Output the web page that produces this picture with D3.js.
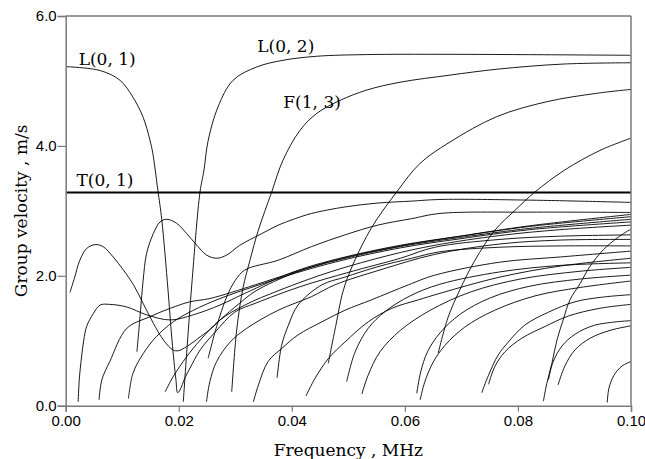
<!DOCTYPE html>
<html><head><meta charset="utf-8">
<script src="https://cdn.jsdelivr.net/npm/d3@7/dist/d3.min.js"></script>
<style>body{margin:0;background:#fff}svg{display:block}</style>
</head><body>
<svg id="chart" width="645" height="459"></svg>
<script>
// ---- data (frequency MHz, group velocity) ----
const xTicks = [0, 0.02, 0.04, 0.06, 0.08, 0.10];
const yTicks = [0, 2, 4, 6];
const xTitle = "Frequency , MHz";
const yTitle = "Group velocity , m/s";
const modeLabels = [
  {text:"L(0, 1)", f:0.0023, v:5.24},
  {text:"T(0, 1)", f:0.0019, v:3.38},
  {text:"L(0, 2)", f:0.0339, v:5.44},
  {text:"F(1, 3)", f:0.0385, v:4.58}
];
const T01 = [[0,3.283],[0.1,3.283]];
const L01 = [[0,5.22],[0.0061,5.16],[0.0096,5.01],[0.0119,4.75],[0.0137,4.44],[0.0149,4.09],[0.0154,3.89],[0.0163,3.32],[0.0170,2.86],[0.0181,1.78],[0.0188,1.01],[0.0195,0.40],[0.0198,0.2],[0.0202,0.24],[0.0211,0.43],[0.0220,0.58],[0.0238,0.86],[0.0264,1.13],[0.0299,1.44],[0.0335,1.575],[0.0414,1.83],[0.0503,2.06],[0.0592,2.27],[0.0653,2.44],[0.0768,2.56],[0.0875,2.61],[0.1,2.63]];
const L02 = [[0.0208,0.06],[0.0215,0.93],[0.0223,1.86],[0.02376,3.29],[0.02447,3.63],[0.02517,4.07],[0.02694,4.6],[0.0296,5.01],[0.03379,5.215],[0.03844,5.318],[0.0444,5.38],[0.05325,5.406],[0.068,5.41],[0.1,5.395]];
const F13 = [[0.02937,0.215],[0.03025,1.165],[0.03136,1.81],[0.0326,2.24],[0.03407,2.70],[0.03644,3.29],[0.03844,3.78],[0.04145,4.24],[0.0444,4.50],[0.04852,4.70],[0.05325,4.86],[0.05914,4.98],[0.068,5.09],[0.07624,5.18],[0.08797,5.26],[0.1,5.28]];
const M3 = [[0.04645,0.65],[0.0478,1.24],[0.0494,1.86],[0.05383,2.70],[0.05855,3.29],[0.06267,3.73],[0.06798,4.06],[0.07624,4.45],[0.08509,4.68],[0.09393,4.81],[0.1,4.87]];
const M4 = [[0.0659,0.81],[0.0676,1.35],[0.0697,1.78],[0.0724,2.24],[0.0759,2.70],[0.0795,3.01],[0.083,3.29],[0.0883,3.63],[0.0945,3.93],[0.1,4.12]];
const M5 = [[0.0845,0.07],[0.0851,0.34],[0.086,0.65],[0.0869,1.01],[0.088,1.32],[0.0892,1.63],[0.0910,1.88],[0.0927,2.14],[0.0951,2.40],[0.0975,2.58],[0.1,2.72]];
const FA = [[0.00076,1.745],[0.0016,1.98],[0.0025,2.24],[0.0037,2.42],[0.0052,2.48],[0.0066,2.45],[0.0084,2.29],[0.0102,2.09],[0.0120,1.86],[0.0137,1.575],[0.0155,1.27],[0.0173,1.01],[0.0190,0.857],[0.0199,0.846],[0.0214,0.91],[0.0238,1.06],[0.0261,1.215],[0.0273,1.32],[0.0308,1.58],[0.0335,1.76],[0.0406,2.05],[0.0485,2.26],[0.0592,2.46],[0.0698,2.61],[0.0821,2.77],[0.1,2.945]];
const FB = [[0.0126,0.83],[0.0131,1.32],[0.0137,1.93],[0.0143,2.34],[0.0155,2.65],[0.0167,2.83],[0.0179,2.87],[0.0196,2.81],[0.0214,2.65],[0.0232,2.47],[0.0249,2.32],[0.0267,2.27],[0.0285,2.32],[0.0308,2.47],[0.0347,2.65],[0.0376,2.78],[0.0406,2.88],[0.0435,2.96],[0.0494,3.06],[0.0552,3.12],[0.0612,3.15],[0.0662,3.175],[0.0821,3.165],[0.1,3.13]];
const M2 = [[0.0022,0.06],[0.0024,0.40],[0.0028,0.75],[0.0032,1.01],[0.0037,1.22],[0.0049,1.42],[0.0061,1.55],[0.0078,1.56],[0.0108,1.52],[0.0143,1.40],[0.0185,1.32],[0.0226,1.40],[0.0273,1.55],[0.0317,1.73],[0.0406,2.07],[0.0485,2.27],[0.0592,2.47],[0.0698,2.61],[0.0821,2.76],[0.1,2.91]];
const M6 = [[0.0059,0.09],[0.0064,0.40],[0.0078,0.68],[0.0108,1.19],[0.0149,1.37],[0.0185,1.50],[0.0220,1.60],[0.0255,1.65],[0.0335,1.86],[0.0406,2.06],[0.0485,2.25],[0.0592,2.45],[0.0698,2.59],[0.0821,2.73],[0.1,2.87]];
const M7 = [[0.0111,0.11],[0.0119,0.50],[0.0137,0.80],[0.016,1.06],[0.019,1.29],[0.0226,1.47],[0.0273,1.65],[0.0335,1.84],[0.0406,2.04],[0.0485,2.23],[0.0592,2.43],[0.0698,2.57],[0.0821,2.71],[0.1,2.83]];
const M8 = [[0.0176,0.215],[0.0190,0.446],[0.0214,0.754],[0.0238,1.01],[0.0273,1.32],[0.0317,1.55],[0.0379,1.78],[0.0468,2.06],[0.0574,2.32],[0.0653,2.47],[0.0768,2.62],[0.0874,2.71],[0.1,2.78]];
const M9 = [[0.0249,0.06],[0.0255,0.37],[0.0267,0.68],[0.0291,0.98],[0.032,1.19],[0.0376,1.47],[0.0435,1.68],[0.0476,1.86],[0.0556,2.09],[0.0653,2.33],[0.0768,2.49],[0.0875,2.55],[0.1,2.56]];
const M10 = [[0.0252,0.73],[0.0267,1.22],[0.0285,1.68],[0.030,1.93],[0.0317,2.09],[0.0376,2.24],[0.0435,2.45],[0.0494,2.63],[0.0552,2.78],[0.0612,2.88],[0.0662,2.96],[0.0821,2.98],[0.1,2.975]];
const M12 = [[0.0332,0.06],[0.0341,0.32],[0.0358,0.68],[0.0382,0.88],[0.0411,1.09],[0.0453,1.29],[0.0494,1.47],[0.0541,1.63],[0.0606,1.86],[0.0653,2.01],[0.0768,2.21],[0.0875,2.29],[0.1,2.38]];
const M13 = [[0.0374,0.43],[0.0382,0.93],[0.0394,1.24],[0.0411,1.55],[0.0453,1.86],[0.0494,1.98],[0.0552,2.14],[0.0612,2.27],[0.0662,2.37],[0.0768,2.44],[0.0875,2.46],[0.1,2.46]];
const M14 = [[0.0425,0.15],[0.0441,0.42],[0.0465,0.73],[0.0494,0.98],[0.0535,1.29],[0.0577,1.50],[0.0624,1.63],[0.0662,1.73],[0.0768,1.98],[0.0875,2.15],[0.1,2.27]];
const M16 = [[0.0497,0.37],[0.0512,0.83],[0.0535,1.19],[0.0565,1.45],[0.0609,1.69],[0.0662,1.87],[0.0768,2.06],[0.0875,2.16],[0.1,2.20]];
const M17 = [[0.0524,0.18],[0.0535,0.47],[0.0556,0.83],[0.0592,1.16],[0.0645,1.47],[0.0716,1.75],[0.0804,1.95],[0.091,2.07],[0.1,2.13]];
const M18 = [[0.0621,0.19],[0.0628,0.52],[0.064,0.83],[0.0662,1.12],[0.0698,1.41],[0.0751,1.66],[0.0821,1.84],[0.091,1.95],[0.1,2.01]];
const M19 = [[0.0627,0.09],[0.0635,0.36],[0.065,0.67],[0.0671,0.93],[0.0706,1.21],[0.0759,1.47],[0.083,1.69],[0.091,1.82],[0.1,1.92]];
const M21 = [[0.0736,0.2],[0.0748,0.47],[0.0765,0.78],[0.0783,0.98],[0.0812,1.24],[0.0854,1.44],[0.0901,1.6],[0.0948,1.67],[0.1,1.71]];
const M22 = [[0.0748,0.33],[0.0759,0.6],[0.0777,0.83],[0.0807,1.04],[0.0848,1.22],[0.0889,1.38],[0.0945,1.50],[0.1,1.56]];
const M24 = [[0.0854,0.40],[0.0862,0.67],[0.0878,0.92],[0.0901,1.10],[0.0936,1.24],[0.1,1.31]];
const M25 = [[0.0871,0.32],[0.0883,0.61],[0.0901,0.86],[0.0928,1.04],[0.0963,1.16],[0.1,1.23]];
const M26 = [[0.0958,0.05],[0.0961,0.27],[0.097,0.47],[0.0984,0.61],[0.1,0.68]];

const thinModes = [L01,L02,F13,M3,M4,M5,FA,FB,M2,M6,M7,M8,M9,M10,M12,M13,M14,M16,M17,M18,M19,M21,M22,M24,M25,M26];

// ---- layout ----
const svg = d3.select("#chart");
const X0 = 65.7, X1 = 631, Y0 = 405.7, Y1 = 16;
const x = d3.scaleLinear().domain([0,0.1]).range([X0,X1]);
const y = d3.scaleLinear().domain([0,6]).range([Y0,Y1]);
const axisColor = "#7a7a7a";

const line = d3.line().x(d=>x(d[0])).y(d=>y(d[1])).curve(d3.curveCatmullRom.alpha(0.5));

const g = svg.append("g");
g.append("defs").append("clipPath").attr("id","clip").append("rect")
  .attr("x",X0).attr("y",Y1).attr("width",X1-X0).attr("height",Y0-Y1);
const curves = g.append("g").attr("clip-path","url(#clip)");
curves.selectAll("path.m").data(thinModes).join("path").attr("class","m")
  .attr("d",line).attr("fill","none").attr("stroke","#000").attr("stroke-width",0.9);
curves.append("path").datum(T01).attr("d",line).attr("fill","none").attr("stroke","#000").attr("stroke-width",2);

// frame
g.append("line").attr("x1",X0).attr("x2",X1).attr("y1",Y1).attr("y2",Y1).attr("stroke",axisColor).attr("stroke-width",1.5);
g.append("line").attr("x1",X1).attr("x2",X1).attr("y1",Y1).attr("y2",Y0).attr("stroke",axisColor).attr("stroke-width",1.5);

const xAxis = d3.axisBottom(x).tickValues(xTicks).tickFormat(d3.format(".2f")).tickSize(6).tickPadding(4);
const yAxis = d3.axisLeft(y).tickValues(yTicks).tickFormat(d3.format(".1f")).tickSize(8).tickPadding(1);
const gx = g.append("g").attr("transform",`translate(0,${Y0})`).call(xAxis);
const gy = g.append("g").attr("transform",`translate(${X0},0)`).call(yAxis);
[gx,gy].forEach(a=>{
  a.select(".domain").attr("stroke",axisColor).attr("stroke-width",1.5);
  a.selectAll(".tick line").attr("stroke",axisColor).attr("stroke-width",1.2);
  a.selectAll(".tick text").attr("fill","#000").style("font-family","'Liberation Sans', Arial, sans-serif").style("font-size","15px");
});

g.append("text").attr("x",(X0+X1)/2).attr("y",456).attr("text-anchor","middle")
  .style("font-family","'DejaVu Serif', serif").style("font-size","17px").text(xTitle);
g.append("text").attr("transform",`translate(27,${(Y0+Y1)/2}) rotate(-90)`).attr("text-anchor","middle")
  .style("font-family","'DejaVu Serif', serif").style("font-size","17px").text(yTitle);

g.selectAll("text.lab").data(modeLabels).join("text").attr("class","lab")
  .attr("x",d=>x(d.f)).attr("y",d=>y(d.v))
  .style("font-family","'DejaVu Serif', serif").style("font-size","17px").text(d=>d.text);
</script>
</body></html>
